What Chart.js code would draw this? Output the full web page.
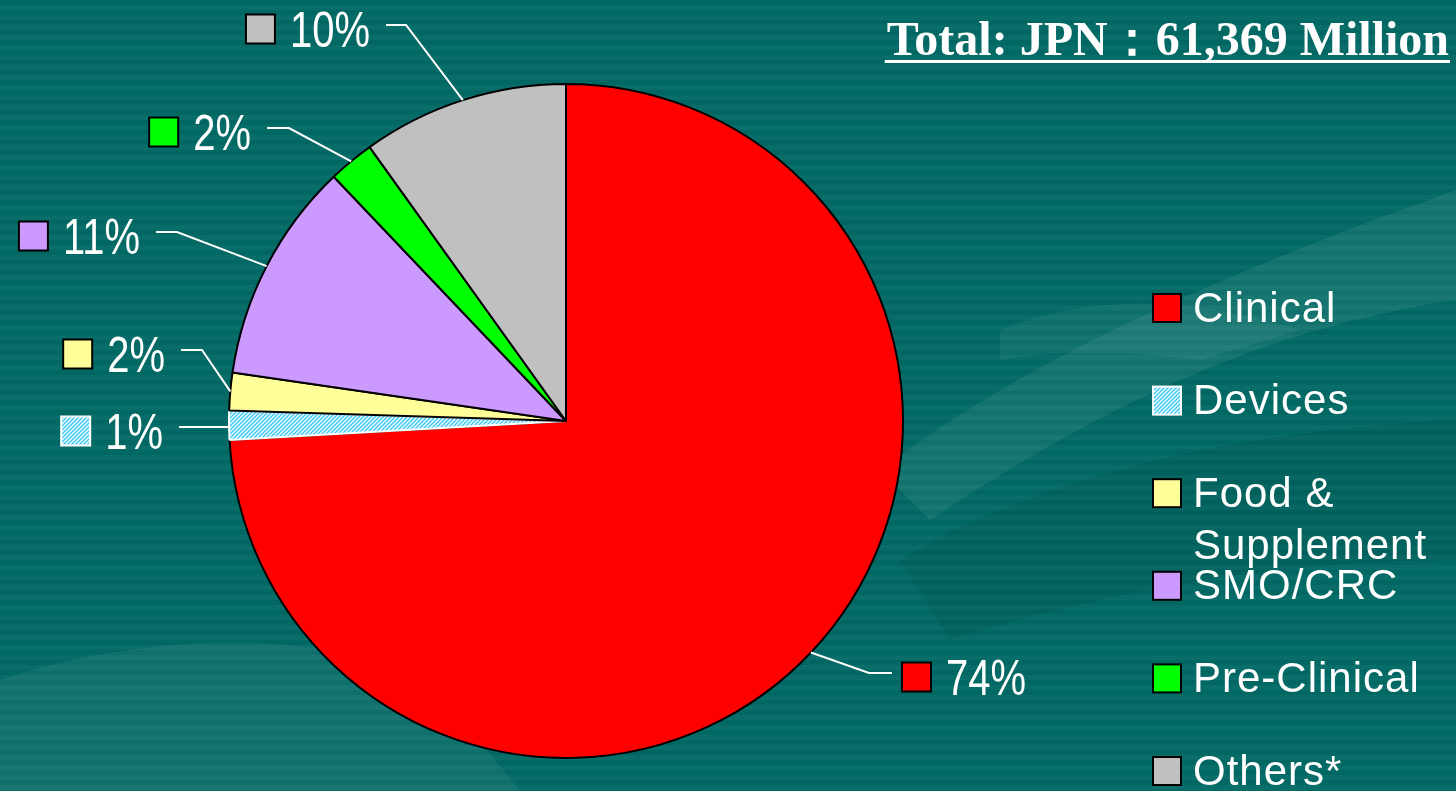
<!DOCTYPE html>
<html>
<head>
<meta charset="utf-8">
<script src="https://cdn.jsdelivr.net/npm/chart.js@4"></script>
<style>
  html, body { margin: 0; padding: 0; }
  body {
    width: 1456px; height: 791px; overflow: hidden; position: relative;
    background: repeating-linear-gradient(to bottom, #006762 0px, #006762 5px, #096e69 5px, #096e69 10px);
  }
  #deco { position: absolute; left: 0; top: 0; }
  #chart { position: absolute; left: 0; top: 0; }
</style>
</head>
<body>
<!-- faint background swooshes, decoration only -->
<svg id="deco" width="1456" height="791">
  <path d="M880,470 C1000,380 1150,300 1456,190 L1456,300 C1250,330 1080,420 930,520 Z" fill="#ffffff" opacity="0.07"/>
  <path d="M900,560 C1050,470 1250,430 1456,420 L1456,560 C1250,560 1080,600 950,640 Z" fill="#000000" opacity="0.06"/>
  <path d="M0,680 C120,640 260,630 380,660 C440,690 480,740 520,791 L0,791 Z" fill="#ffffff" opacity="0.06"/>
  <path d="M1000,330 C1100,290 1200,300 1300,330 L1200,360 C1120,350 1060,350 1000,360 Z" fill="#ffffff" opacity="0.05"/>
</svg>
<canvas id="chart" width="1456" height="791"></canvas>
<script>
// ── Data ──
const categories = ['Clinical', 'Devices', 'Food & Supplement', 'SMO/CRC', 'Pre-Clinical', 'Others*'];
const shares     = [74.1, 1.4, 1.8, 10.6, 2.2, 9.9];   // % of total
const titleText  = 'Total: JPN：61,369 Million';

const sliceColors  = ['#ff0000', null, '#ffff99', '#cc99ff', '#00ff00', '#c0c0c0']; // null = hatched
const sliceBorders = ['#000000', '#ffffff', '#000000', '#000000', '#000000', '#000000'];

// where each leader line bends and where its horizontal part stops
const leaderLayout = [
    { elbow: [869, 673], end: 892 },
    { elbow: [229, 427], end: 179 },
    { elbow: [202, 350], end: 181 },
    { elbow: [177, 232], end: 156 },
    { elbow: [289, 128], end: 267 },
    { elbow: [406, 25],  end: 386 },
];

const canvas = document.getElementById('chart');
const ctx = canvas.getContext('2d');

// light cyan fill with fine blue diagonal hatching (Devices)
function makeHatch() {
    const c = document.createElement('canvas');
    c.width = c.height = 4;
    const g = c.getContext('2d');
    g.fillStyle = '#eafaff';
    g.fillRect(0, 0, 4, 4);
    g.strokeStyle = '#3cc8f5';
    g.lineWidth = 1.3;
    g.beginPath();
    g.moveTo(0, 4); g.lineTo(4, 0);
    g.moveTo(-1, 1); g.lineTo(1, -1);
    g.moveTo(3, 5); g.lineTo(5, 3);
    g.stroke();
    return ctx.createPattern(c, 'repeat');
}
const hatch = makeHatch();
const fills = sliceColors.map(c => c || hatch);

function drawSwatch(c, x, y, size, i) {
    c.fillStyle = fills[i];
    c.fillRect(x, y, size, size);
    c.lineWidth = 2;
    c.strokeStyle = sliceBorders[i];
    c.strokeRect(x, y, size, size);
}

// ── Leader lines + percentage labels ──
const leaderLabels = {
    id: 'leaderLabels',
    afterDatasetsDraw(chart) {
        const c = chart.ctx;
        const meta = chart.getDatasetMeta(0);
        meta.data.forEach((arc, i) => {
            const { x, y, startAngle, endAngle, outerRadius } =
                arc.getProps(['x', 'y', 'startAngle', 'endAngle', 'outerRadius'], true);
            const mid = (startAngle + endAngle) / 2;
            const ex = x + Math.cos(mid) * outerRadius;
            const ey = y + Math.sin(mid) * outerRadius;
            const lay = leaderLayout[i];
            const ly = lay.elbow[1];

            c.save();
            c.strokeStyle = '#ffffff';
            c.lineWidth = 2;
            c.beginPath();
            c.moveTo(ex, ey);
            c.lineTo(lay.elbow[0], ly);
            c.lineTo(lay.end, ly);
            c.stroke();

            const text = Math.round(chart.data.datasets[0].data[i]) + '%';
            c.font = '50px "Liberation Sans", Arial, sans-serif';
            const sx = 0.8; // the original face is narrow
            const tw = c.measureText(text).width * sx;
            const rightSide = lay.end > lay.elbow[0];
            let boxX, textX;
            if (rightSide) {
                boxX = lay.end + 10;
                textX = boxX + 29 + 15;
            } else {
                textX = lay.end - 16 - tw;
                boxX = textX - 15 - 29;
            }
            drawSwatch(c, boxX, ly - 10.5, 29, i);
            c.fillStyle = '#ffffff';
            c.textAlign = 'left';
            c.textBaseline = 'alphabetic';
            c.translate(textX, ly + 22);
            c.scale(sx, 1);
            c.fillText(text, 0, 0);
            c.restore();
        });
    }
};

// ── Legend on the right + title ──
const sideLegend = {
    id: 'sideLegend',
    afterDraw(chart) {
        const c = chart.ctx;
        c.save();
        c.font = '42px "Liberation Sans", Arial, sans-serif';
        c.letterSpacing = '1px';
        c.fillStyle = '#ffffff';
        c.textBaseline = 'middle';
        const x0 = 1153, top = 308, step = 92.6, maxW = 262;
        categories.forEach((name, i) => {
            const cy = top + i * step;
            drawSwatch(c, x0, cy - 14, 28, i);
            // greedy word wrap
            const words = name.split(' ');
            const lines = [];
            let cur = '';
            words.forEach(w => {
                const t = cur ? cur + ' ' + w : w;
                if (cur && c.measureText(t).width > maxW) { lines.push(cur); cur = w; }
                else cur = t;
            });
            lines.push(cur);
            c.fillStyle = '#ffffff';
            lines.forEach((ln, k) => c.fillText(ln, 1193, cy + 2 + k * 52));
        });

        // title, right aligned and underlined
        c.letterSpacing = '0px';
        c.font = 'bold 48px "Liberation Serif", "Times New Roman", serif';
        c.textAlign = 'right';
        c.textBaseline = 'alphabetic';
        const w = c.measureText(titleText).width;
        c.fillText(titleText, 1449, 55);
        c.fillRect(1449 - w - 2, 60, w + 3, 3);
        c.restore();
    }
};

new Chart(ctx, {
    type: 'pie',
    data: {
        labels: categories,
        datasets: [{
            data: shares,
            backgroundColor: fills,
            borderColor: sliceBorders,
            borderWidth: 2,
            hoverOffset: 0
        }]
    },
    options: {
        responsive: false,
        animation: false,
        devicePixelRatio: 1,
        layout: { padding: { left: 228, right: 552, top: 83, bottom: 32 } },
        plugins: { legend: { display: false }, tooltip: { enabled: false } },
        events: []
    },
    plugins: [leaderLabels, sideLegend]
});
</script>
</body>
</html>
